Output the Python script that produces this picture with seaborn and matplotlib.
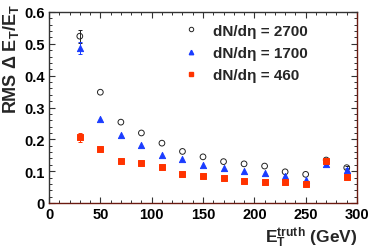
import matplotlib
matplotlib.use("Agg")
import matplotlib.pyplot as plt
import seaborn as sns
import pandas as pd
from matplotlib.ticker import MultipleLocator
from matplotlib.lines import Line2D

# ---- data ----
et_truth = [30, 50, 70, 90, 110, 130, 150, 170, 190, 210, 230, 250, 270, 290]
rms_2700 = [0.524, 0.348, 0.254, 0.220, 0.188, 0.162, 0.145, 0.130, 0.123, 0.116, 0.098, 0.090, 0.135, 0.111]
err_2700 = [0.020, 0.0, 0.0, 0.0, 0.0, 0.0, 0.0, 0.0, 0.0, 0.0, 0.0, 0.0, 0.003, 0.005]
rms_1700 = [0.487, 0.263, 0.215, 0.181, 0.150, 0.139, 0.119, 0.109, 0.100, 0.095, 0.084, 0.072, 0.124, 0.104]
err_1700 = [0.020, 0.0, 0.0, 0.0, 0.0, 0.0, 0.0, 0.0, 0.0, 0.0, 0.0, 0.0, 0.003, 0.005]
rms_460 = [0.206, 0.169, 0.133, 0.126, 0.114, 0.091, 0.084, 0.080, 0.068, 0.067, 0.067, 0.061, 0.132, 0.082]
err_460 = [0.014, 0.0, 0.0, 0.0, 0.0, 0.0, 0.0, 0.0, 0.0, 0.0, 0.0, 0.0, 0.003, 0.008]
labels = ["dN/dη = 2700", "dN/dη = 1700", "dN/dη = 460"]

sns.set_theme(style="ticks")
plt.rcParams["font.family"] = ["Liberation Sans", "DejaVu Sans"]
plt.rcParams["font.weight"] = "bold"
plt.rcParams["mathtext.fontset"] = "custom"
plt.rcParams["mathtext.rm"] = "Liberation Sans:bold"
plt.rcParams["mathtext.bf"] = "Liberation Sans:bold"
plt.rcParams["mathtext.it"] = "Liberation Sans:bold"

W, H = 374, 253
fig = plt.figure(figsize=(W / 100, H / 100), dpi=100)
ax = fig.add_axes([49 / W, 1 - 204 / H, (357 - 49) / W, (204 - 13) / H])

BLUE = "#1a3cff"
RED = "#ff3300"

series = [
    (rms_2700, err_2700, "o", "none", "#222222", 17),
    (rms_1700, err_1700, "^", BLUE, BLUE, 20),
    (rms_460, err_460, "s", RED, RED, 17),
]
for (vals, errs, mk, fc, ec, s), lab in zip(series, labels):
    df = pd.DataFrame({"x": et_truth, "y": vals, "e": errs})
    dfe = df[df["e"] > 0]
    ax.errorbar(dfe["x"], dfe["y"], yerr=dfe["e"], fmt="none", ecolor=ec,
                elinewidth=0.7, capsize=1.2, capthick=0.7, zorder=2)
    sns.scatterplot(data=df, x="x", y="y", marker=mk, s=s,
                    facecolor=fc, edgecolor=ec, linewidth=0.7, ax=ax, zorder=3)

ax.set_xlim(0, 300)
ax.set_ylim(0, 0.6)
ax.set_xlabel("")
ax.set_ylabel("")
ax.set_xticks([0, 50, 100, 150, 200, 250, 300])
ax.set_xticklabels(["0", "50", "100", "150", "200", "250", "300"])
ax.set_yticks([0, 0.1, 0.2, 0.3, 0.4, 0.5, 0.6])
ax.set_yticklabels(["0", "0.1", "0.2", "0.3", "0.4", "0.5", "0.6"])
ax.xaxis.set_minor_locator(MultipleLocator(10))
ax.yaxis.set_minor_locator(MultipleLocator(0.02))
ax.tick_params(which="both", direction="in", top=True, right=True,
               labelsize=10.5, colors="#333333", labelcolor="black")
ax.tick_params(which="major", length=4.5, width=0.8, pad=3)
ax.tick_params(which="minor", length=2.3, width=0.7)
for lab in ax.get_xticklabels() + ax.get_yticklabels():
    lab.set_fontweight("bold")
for side in ["top", "left"]:
    ax.spines[side].set_color("#333333")
for side in ["bottom", "right"]:
    ax.spines[side].set_color("#6b1a10")
for sp in ax.spines.values():
    sp.set_linewidth(1.0)

handles = [
    Line2D([], [], ls="none", marker="o", mfc="none", mec="#222222", ms=3.2, mew=0.7),
    Line2D([], [], ls="none", marker="^", mfc=BLUE, mec=BLUE, ms=3.2),
    Line2D([], [], ls="none", marker="s", mfc=RED, mec=RED, ms=3.2),
]
leg = ax.legend(handles, labels, loc="upper left", bbox_to_anchor=(176 / W, 1 - 17 / H),
                bbox_transform=fig.transFigure, frameon=False, borderpad=0,
                handlelength=1.0, handletextpad=0.9, labelspacing=0.55,
                prop={"size": 11, "weight": "bold"})

fig.text(11 / W, 1 - 4 / H, r"RMS $\Delta$ E$_\mathrm{T}$/E$_\mathrm{T}$", rotation=90,
         ha="center", va="top", fontsize=13, fontweight="bold")
fig.text(357 / W, 1 - 250 / H, r"E$_\mathrm{T}^\mathrm{truth}$ (GeV)", ha="right", va="bottom",
         fontsize=12.5, fontweight="bold")

fig.savefig("out.png", dpi=100)
